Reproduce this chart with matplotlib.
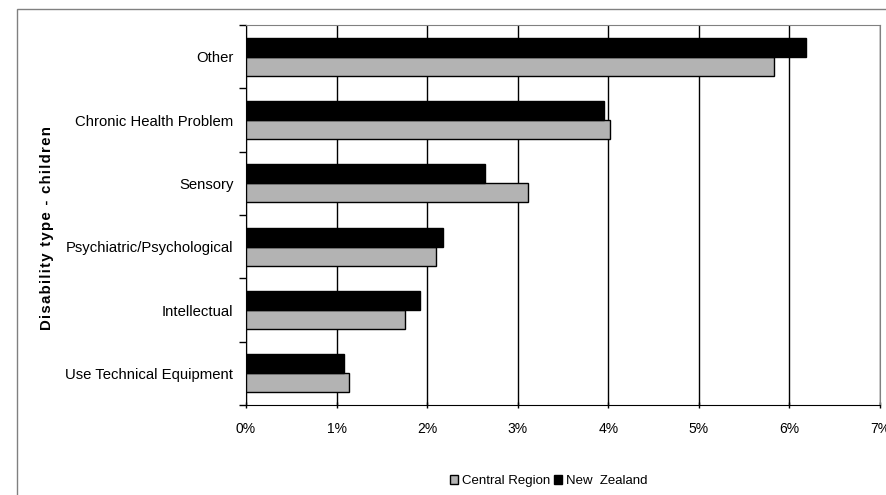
import matplotlib.pyplot as plt
import numpy as np
from matplotlib.patches import Rectangle
from matplotlib.ticker import PercentFormatter

plt.rcParams['font.family'] = ['Liberation Sans', 'DejaVu Sans']

# Disability types, bottom to top
categories = ['Use Technical Equipment', 'Intellectual', 'Psychiatric/Psychological',
              'Sensory', 'Chronic Health Problem', 'Other']
central_region = [1.14, 1.76, 2.10, 3.11, 4.02, 5.83]
new_zealand = [1.08, 1.92, 2.18, 2.64, 3.95, 6.18]
y_title = 'Disability type - children'

fig = plt.figure(figsize=(8.87, 4.95), dpi=100)
ax = fig.add_axes([246 / 887, 1 - 405 / 495, (880 - 246) / 887, (405 - 25) / 495])

# outer chart frame
fig.patches.append(Rectangle((17 / 887, -0.1), 1.1, 1 - 9 / 495 + 0.1,
                             transform=fig.transFigure, fill=False,
                             edgecolor='#808080', linewidth=1))

y = np.arange(len(categories))
h = 0.3
ax.barh(y - h / 2, central_region, height=h, color='#b3b3b3', edgecolor='black',
        linewidth=1, label='Central Region', zorder=3)
ax.barh(y + h / 2, new_zealand, height=h, color='black', edgecolor='black',
        linewidth=1, label='New  Zealand', zorder=3)

ax.set_xlim(0, 7)
ax.set_ylim(-0.5, len(categories) - 0.5)
ax.set_xticks(range(8))
ax.xaxis.set_major_formatter(PercentFormatter(decimals=0))
ax.set_yticks(y)
ax.set_yticklabels(categories)
ax.set_yticks(np.arange(-0.5, len(categories)), minor=True)
ax.tick_params(axis='y', which='major', length=0, pad=9, labelsize=10.7)
ax.tick_params(axis='y', which='minor', length=5, direction='out', width=1)
ax.tick_params(axis='x', length=5, direction='inout', width=1, pad=10, labelsize=10)

ax.grid(axis='x', color='black', linewidth=1, zorder=0)
for side in ['top', 'right']:
    ax.spines[side].set_color('#808080')
for side in ['left', 'bottom']:
    ax.spines[side].set_color('black')

# bold axis title with loose letter spacing
fig.text(47 / 887, 1 - 228 / 495, '\u200a'.join(y_title), rotation=90,
         ha='center', va='center', fontsize=10.8, fontweight='bold')

ax.legend(loc='center', bbox_to_anchor=(549 / 887, 1 - 481 / 495),
          bbox_transform=fig.transFigure, ncol=2, frameon=False, fontsize=9.5,
          handlelength=0.6, handleheight=0.6, handletextpad=0.3, columnspacing=0.3)

fig.savefig('out.png', dpi=100)
